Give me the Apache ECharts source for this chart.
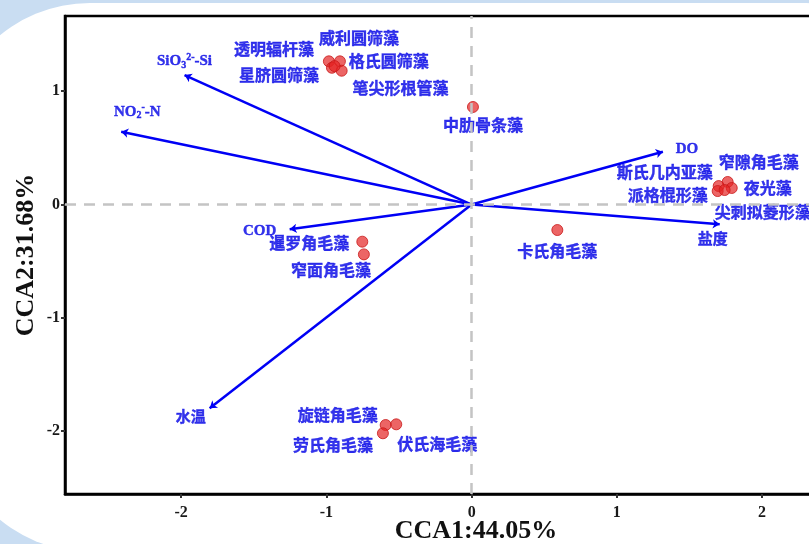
<!DOCTYPE html>
<html><head><meta charset="utf-8">
<script src="https://cdn.jsdelivr.net/npm/echarts@6/dist/echarts.min.js"></script>
<style>
html,body{margin:0;padding:0;background:#c9ddf2;overflow:hidden;}
#bg{position:absolute;left:-52px;top:3px;width:1000px;height:549px;border-radius:142px;background:#fff;}
#c{position:absolute;left:0;top:0;width:809px;height:544px;}
</style>
</head><body><div id="bg"></div><div id="c"></div>
<script>
// Environmental vectors (arrow tips)
const envNames = ['SiO3-Si', 'NO2-N', 'DO', '盐度', 'COD', '水温'];
const envX = [-1.977, -2.413, 1.317, 1.708, -1.253, -1.804];
const envY = [1.143, 0.643, 0.466, -0.175, -0.219, -1.799];

// Species scores
const speciesNames = ['透明辐杆藻', '威利圆筛藻', '星脐圆筛藻', '格氏圆筛藻', '笔尖形根管藻',
  '中肋骨条藻', '窄隙角毛藻', '斯氏几内亚藻', '夜光藻', '派格棍形藻', '尖刺拟菱形藻',
  '卡氏角毛藻', '暹罗角毛藻', '窄面角毛藻', '旋链角毛藻', '伏氏海毛藻', '劳氏角毛藻'];
const speciesX = [-0.983, -0.907, -0.962, -0.895, -0.944, 0.009, 1.763, 1.701, 1.791, 1.694, 1.742,
  0.590, -0.753, -0.742, -0.592, -0.519, -0.611];
const speciesY = [1.264, 1.264, 1.207, 1.181, 1.222, 0.861, 0.199, 0.163, 0.146, 0.119, 0.128,
  -0.225, -0.328, -0.440, -1.946, -1.940, -2.019];

// Tick values
const xTicks = [-2, -1, 0, 1, 2];
const yTicks = [-2, -1, 0, 1];

// Label placement (pixel offsets from the mark)
const envLabelOffsets = [[0, -14], [16, -20], [24, -3], [-7, 16], [-30, 2], [-19, 10]];
const speciesLabelOffsets = [[-55, -12], [19, -23], [-53, 7], [47, -10], [66, 22], [10, 18],
  [31, -20], [-54, -14], [36, 0], [-50, 4], [38, 22], [0, 21], [-53, 1], [-33, 16],
  [-48, -10], [41, 20], [-50, 12]];

const BLUE = '#0000f5';
const TXT = '#0000e6';
const serif = "'Liberation Serif', 'Times New Roman', serif";
const cjk = "'Noto Sans CJK SC', sans-serif";

const envRich = {
  'SiO3-Si': '{n|SiO}{s|3}{p|2-}{n|-Si}',
  'NO2-N': '{n|NO}{s|2}{p|-}{n|-N}'
};

const chart = echarts.init(document.getElementById('c'), null, {renderer: 'canvas'});
chart.setOption({
  backgroundColor: 'transparent',
  animation: false,
  grid: {left: 65, right: -78, top: 16, bottom: 50, outerBoundsMode: 'none', containLabel: false,
    show: true, borderColor: '#000', borderWidth: 2.5, backgroundColor: 'transparent'},
  xAxis: {
    type: 'value', min: -2.8, max: 2.86,
    name: 'CCA1:44.05%', nameLocation: 'middle', nameGap: 24, nameMoveOverlap: false,
    nameTextStyle: {fontFamily: serif, fontWeight: 'bold', fontSize: 26, color: '#111'},
    axisLine: {show: true, onZero: false, lineStyle: {color: '#000', width: 2.5}},
    axisTick: {show: true, length: 4, customValues: xTicks, lineStyle: {color: '#333', width: 2}},
    axisLabel: {customValues: xTicks, margin: 11, fontFamily: serif, fontWeight: 'bold', fontSize: 16, color: '#1a1a1a'},
    splitLine: {show: false}
  },
  yAxis: {
    type: 'value', min: -2.555, max: 1.664,
    name: 'CCA2:31.68%', nameLocation: 'middle', nameGap: 26, nameMoveOverlap: false,
    nameTextStyle: {fontFamily: serif, fontWeight: 'bold', fontSize: 26, color: '#111'},
    axisLine: {show: true, onZero: false, lineStyle: {color: '#000', width: 2.5}},
    axisTick: {show: true, length: 4, customValues: yTicks, lineStyle: {color: '#333', width: 2}},
    axisLabel: {customValues: yTicks, margin: 5, fontFamily: serif, fontWeight: 'bold', fontSize: 16, color: '#1a1a1a'},
    splitLine: {show: false}
  },
  series: [
    {
      type: 'scatter', data: [], z: 1, silent: true,
      markLine: {
        silent: true, symbol: 'none', animation: false,
        label: {show: false},
        lineStyle: {type: [11, 8], color: '#c4c4c4', width: 2.5},
        data: [{xAxis: 0}, {yAxis: 0}]
      }
    },
    {
      type: 'lines', coordinateSystem: 'cartesian2d', z: 3,
      symbol: ['none', 'arrow'], symbolSize: 7,
      lineStyle: {color: BLUE, width: 2.5, opacity: 1},
      data: envNames.map((n, i) => ({coords: [[0, 0], [envX[i], envY[i]]]}))
    },
    {
      type: 'scatter', z: 4, symbolSize: 11,
      itemStyle: {color: 'rgba(228,36,36,0.88)', borderColor: '#c81818', borderWidth: 1},
      label: {show: true, position: 'inside', formatter: p => p.name, color: TXT,
        textBorderColor: TXT, textBorderWidth: 0.4,
        fontFamily: cjk, fontWeight: 'bold', fontSize: 16, align: 'center', verticalAlign: 'middle'},
      data: speciesNames.map((n, i) => ({name: n, value: [speciesX[i], speciesY[i]], label: {offset: speciesLabelOffsets[i]}}))
    },
    {
      type: 'scatter', z: 5, symbolSize: 0, silent: true,
      label: {
        show: true, position: 'inside', color: TXT, textBorderColor: TXT, textBorderWidth: 0.4,
        fontFamily: serif + ", " + cjk, fontWeight: 'bold', fontSize: 15,
        align: 'center', verticalAlign: 'middle',
        formatter: p => envRich[p.name] || p.name,
        rich: {
          n: {fontFamily: serif + ", " + cjk, fontWeight: 'bold', fontSize: 15, color: TXT, lineHeight: 18, verticalAlign: 'middle'},
          s: {fontFamily: serif, fontWeight: 'bold', fontSize: 10, color: TXT, lineHeight: 10, verticalAlign: 'bottom'},
          p: {fontFamily: serif, fontWeight: 'bold', fontSize: 10, color: TXT, lineHeight: 10, verticalAlign: 'top'}
        }
      },
      data: envNames.map((n, i) => ({name: n, value: [envX[i], envY[i]], label: {offset: envLabelOffsets[i]}}))
    }
  ]
});
</script>
</body></html>
